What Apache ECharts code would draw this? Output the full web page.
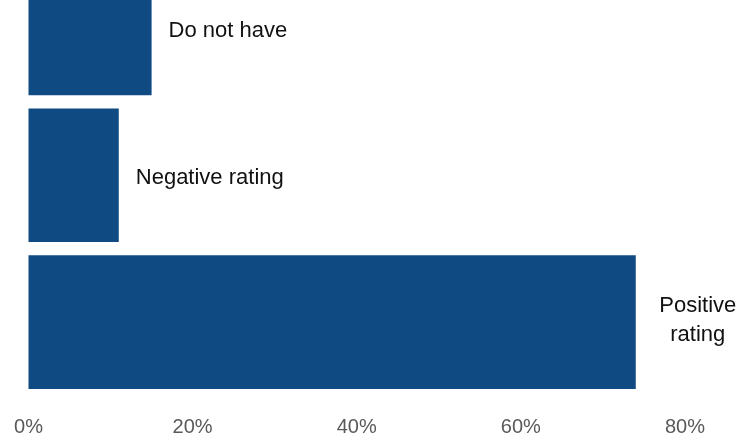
<!DOCTYPE html>
<html>
<head>
<meta charset="utf-8">
<script src="https://cdn.jsdelivr.net/npm/echarts@6/dist/echarts.min.js"></script>
<style>
html,body{margin:0;padding:0;background:#fff;overflow:hidden;width:752px;height:441px;}
#wrap{position:relative;width:752px;height:441px;overflow:hidden;}
#c{position:absolute;left:0;top:-45px;width:752px;height:486px;}
</style>
</head>
<body>
<div id="wrap"><div id="c"></div></div>
<script>
const categories = ['Positive rating', 'Negative rating', 'Do not have'];
const labelTexts = ['Positive\nrating', 'Negative rating', 'Do not have'];
const values = [74, 11, 15];
const tickMax = 80;
const tickInterval = 20;

const chart = echarts.init(document.getElementById('c'), null, {renderer: 'canvas'});
const font = '"Liberation Sans", Arial, sans-serif';
chart.setOption({
  animation: false,
  grid: {left: 28.5, right: 67, top: 0, bottom: 45.5, containLabel: false},
  xAxis: {
    type: 'value', min: 0, max: tickMax, interval: tickInterval,
    axisLine: {show: false}, axisTick: {show: false}, splitLine: {show: false},
    axisLabel: {formatter: '{value}%', color: '#595959', fontSize: 20, fontFamily: font, margin: 22}
  },
  yAxis: {
    type: 'category', data: categories,
    axisLine: {show: false}, axisTick: {show: false}, axisLabel: {show: false}, splitLine: {show: false}
  },
  series: [{
    type: 'bar',
    barCategoryGap: '9%',
    itemStyle: {color: '#0F4B82'},
    data: values.map((v, i) => ({
      value: v,
      label: {
        show: true, position: 'right',
        distance: i === 0 ? 62 : 17,
        offset: i === 0 ? [0, -2] : [0, 3],
        formatter: labelTexts[i],
        color: '#111111', fontSize: 22, fontFamily: font,
        lineHeight: 29, align: i === 0 ? 'center' : 'left'
      }
    }))
  }]
});
</script>
</body>
</html>
